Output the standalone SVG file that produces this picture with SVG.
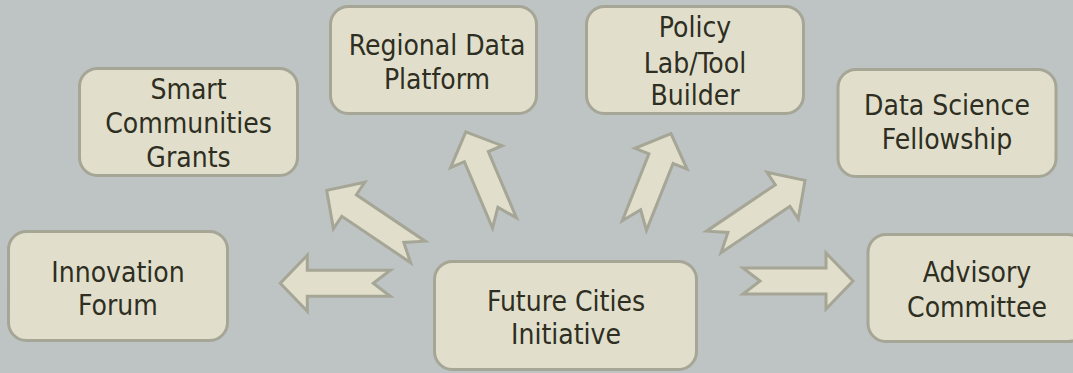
<svg xmlns="http://www.w3.org/2000/svg" xmlns:xlink="http://www.w3.org/1999/xlink" width="1073" height="373" viewBox="0 0 1073 373">
<style>
.box{fill:#e1dfcb;stroke:#a6a697;stroke-width:3}
.arr{fill:#e1dfcb;stroke:#a6a697;stroke-width:3;stroke-linejoin:miter}
.t{font-family:'DejaVu Sans Condensed','DejaVu Sans',sans-serif;font-stretch:condensed;font-size:28px;fill:#2e2e22;text-anchor:middle}
</style>
<defs>
<path id="arrLong" d="M0,0 L-27,-28 L-27,-13 L-110,-13 L-93,0 L-110,13 L-27,13 L-27,28 Z"/>
<path id="arrShort" d="M0,0 L-27,-28 L-27,-13 L-99,-13 L-82,0 L-99,13 L-27,13 L-27,28 Z"/>
</defs>
<rect width="1073" height="373" fill="#bec3c3"/>
<g id="connectors">
<use href="#arrLong" class="arr" transform="translate(280.3,283.3) rotate(180)"/>
<use href="#arrLong" class="arr" transform="translate(853,281)"/>
<use href="#arrLong" class="arr" transform="translate(326.7,190.4) rotate(214)"/>
<use href="#arrShort" class="arr" transform="translate(465.8,131.8) rotate(247)"/>
<use href="#arrShort" class="arr" transform="translate(671,133.6) rotate(-68.3)"/>
<use href="#arrLong" class="arr" transform="translate(805,180.4) rotate(-34)"/>
</g>
<g id="smart">
<rect class="box" x="79.5" y="68.5" width="218" height="107" rx="18"/>
<text class="t" x="188.5" y="99.3">Smart</text>
<text class="t" x="188.5" y="132.5">Communities</text>
<text class="t" x="188.5" y="166.5">Grants</text>
</g>
<g id="regional">
<rect class="box" x="330.5" y="6.5" width="206" height="107" rx="18"/>
<text class="t" x="437" y="55">Regional Data</text>
<text class="t" x="437" y="89.3">Platform</text>
</g>
<g id="policy">
<rect class="box" x="586.5" y="6.5" width="217" height="107" rx="18"/>
<text class="t" x="695" y="37">Policy</text>
<text class="t" x="695" y="72.5">Lab/Tool</text>
<text class="t" x="695" y="105">Builder</text>
</g>
<g id="datascience">
<rect class="box" x="838" y="69.5" width="218" height="107" rx="18"/>
<text class="t" x="947" y="115">Data Science</text>
<text class="t" x="947" y="149.3">Fellowship</text>
</g>
<g id="innovation">
<rect class="box" x="8.5" y="231.5" width="219" height="109" rx="18"/>
<text class="t" x="118" y="281.7">Innovation</text>
<text class="t" x="118" y="315">Forum</text>
</g>
<g id="future">
<rect class="box" x="434.5" y="261.5" width="262" height="108" rx="18"/>
<text class="t" x="566" y="311">Future Cities</text>
<text class="t" x="566" y="344">Initiative</text>
</g>
<g id="advisory">
<rect class="box" x="868" y="234.5" width="218" height="107" rx="18"/>
<text class="t" x="977" y="281.7">Advisory</text>
<text class="t" x="977" y="317">Committee</text>
</g>
</svg>
